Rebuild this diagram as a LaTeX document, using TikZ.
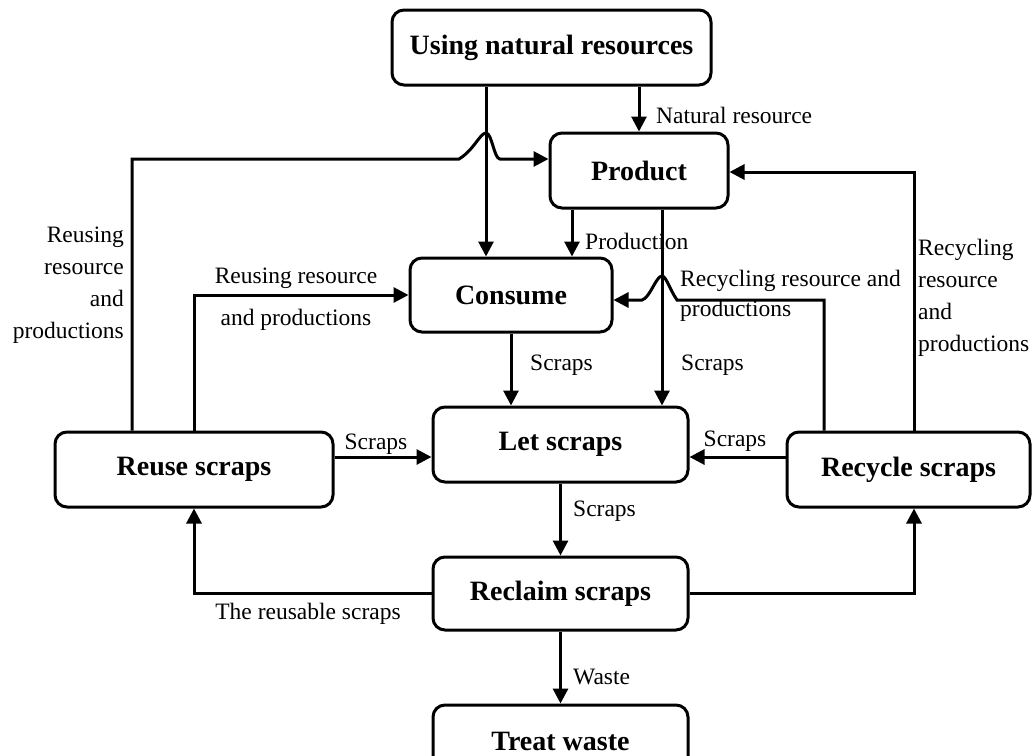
\documentclass[tikz,border=0pt]{standalone}
\usepackage{fontspec}
\setmainfont{Liberation Serif}
\usetikzlibrary{arrows.meta,calc}
\begin{document}
\begin{tikzpicture}[x=1pt,y=-1pt,
  box/.style={draw, line width=3pt, rounded corners=12pt, inner sep=0pt, font=\fontsize{28}{32}\selectfont\bfseries, align=center},
  conn/.style={line width=3pt},
  arr/.style={conn, -{Triangle[length=15pt,width=15pt]}},
  lbl/.style={font=\fontsize{23.5}{32}\selectfont, inner sep=0pt}]
\useasboundingbox (0,0) rectangle (1032,755);
\clip (0,0) rectangle (1032,755);

% nodes
\node[box, minimum width=319pt, minimum height=75pt] (using) at (551.5,47.5) {Using natural resources};
\node[box, minimum width=178pt, minimum height=75pt] (prod) at (639,170.5) {Product};
\node[box, minimum width=202pt, minimum height=74pt] (cons) at (511,295) {Consume};
\node[box, minimum width=255pt, minimum height=75pt] (let) at (560.5,444.5) {Let scraps};
\node[box, minimum width=255pt, minimum height=73pt] (reclaim) at (560.5,593.5) {Reclaim scraps};
\node[box, minimum width=255pt, minimum height=73pt] (treat) at (560.5,741.5) {Treat waste};
\node[box, minimum width=278pt, minimum height=75pt] (reuse) at (194,469.5) {Reuse scraps};
\node[box, minimum width=243pt, minimum height=75pt] (recyc) at (908.5,469.5) {Recycle scraps};

% labels
\node[lbl, anchor=west] at (656,115) {Natural resource};
\node[lbl, anchor=west] at (585,241) {Production};
\node[lbl, anchor=west, align=left, font=\fontsize{23.5}{30}\selectfont] at (680,296) {Recycling resource and\\productions};
\node[lbl, anchor=west] at (681,365) {Scraps};
\node[lbl, anchor=west, align=left] at (918,297.5) {Recycling\\resource\\and\\productions};
\node[lbl, anchor=east, align=right] at (124,285) {Reusing\\resource\\and\\productions};
\node[lbl, align=center, font=\fontsize{23.5}{42}\selectfont] at (296,299) {Reusing resource\\and productions};
\node[lbl, anchor=west] at (530,365) {Scraps};
\node[lbl] at (376,444) {Scraps};
\node[lbl] at (735,441) {Scraps};
\node[lbl, anchor=west] at (573,511) {Scraps};
\node[lbl] at (308,614) {The reusable scraps};
\node[lbl, anchor=west] at (573,677) {Waste};

% connectors
\draw[arr] (prod.north |- using.south) -- (prod.north);
\draw[arr] ([xshift=-65.5pt]using.south) -- ([xshift=-25pt]cons.north);
\draw[arr] ([xshift=-62pt]reuse.north) |- (459,159) .. controls (474,150) and (480,133) .. (486,133) .. controls (492,133) and (494,159) .. (500,159) -- ([yshift=11.5pt]prod.west);
\draw[arr] (reuse.north) |- (cons.west);
\draw[arr] ([xshift=-67pt]prod.south) -- ([xshift=-67pt]prod.south |- cons.north);
\draw[arr] ([xshift=23pt]prod.south) -- ([xshift=23pt]prod.south |- let.north);
\draw[arr] ([xshift=-84.5pt]recyc.north) |- (677,300) .. controls (670,290) and (666,276) .. (662,276) .. controls (656,276) and (650,298) .. (642,300) -- ([yshift=-5pt]cons.east);
\draw[arr] ([xshift=5.5pt]recyc.north) |- ([yshift=-1.5pt]prod.east);
\draw[arr] (cons.south) -- (cons.south |- let.north);
\draw[arr] ([yshift=12.5pt]reuse.east) -- ([yshift=12.5pt]reuse.east -| let.west);
\draw[arr] ([yshift=12.5pt]recyc.west) -- ([yshift=12.5pt]recyc.west -| let.east);
\draw[arr] (let.south) -- (reclaim.north);
\draw[arr] (reclaim.west) -| (reuse.south);
\draw[arr] (reclaim.east) -| ([xshift=5.5pt]recyc.south);
\draw[arr] (reclaim.south) -- (treat.north);
\end{tikzpicture}
\end{document}
